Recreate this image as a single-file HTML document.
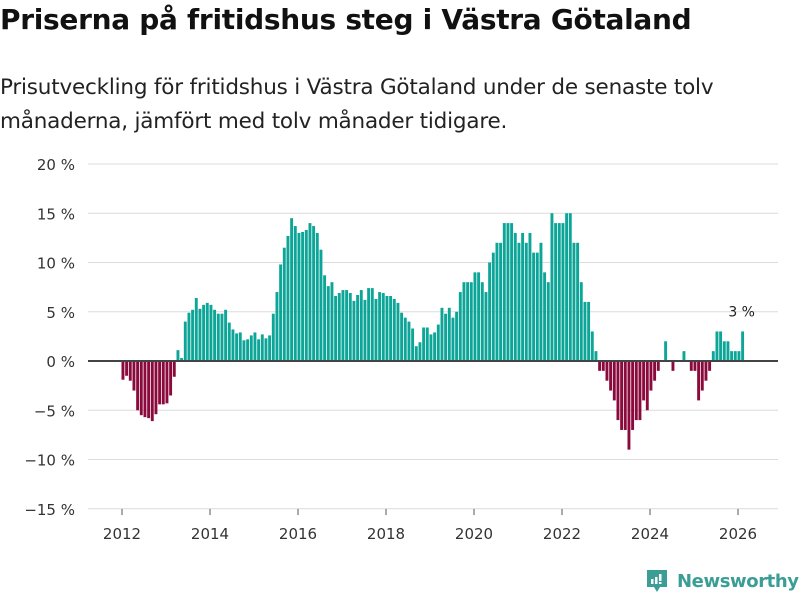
<!DOCTYPE html>
<html><head><meta charset="utf-8"><style>
body{margin:0;width:800px;height:600px;background:#fff;font-family:"DejaVu Sans",sans-serif;overflow:hidden;position:relative}
#title{position:absolute;left:0;top:3px;font-size:28px;font-weight:bold;color:#111;margin:0;letter-spacing:-0.3px;white-space:nowrap}
#sub{position:absolute;left:0;top:71px;font-size:21.5px;line-height:34px;color:#222;margin:0;width:760px;letter-spacing:-0.2px}
svg{position:absolute;left:0;top:0}
#logo{position:absolute;left:645px;top:568px;display:flex;align-items:center;color:#3a9e96;font-size:18px;font-weight:bold;letter-spacing:-0.4px}
</style></head><body>
<h1 id="title">Priserna på fritidshus steg i Västra Götaland</h1>
<p id="sub">Prisutveckling för fritidshus i Västra Götaland under de senaste tolv<br>månaderna, jämfört med tolv månader tidigare.</p>
<svg id="chart" width="800" height="600"></svg>
<div id="logo"><svg width="24" height="26" style="position:static;margin-right:8px"><path d="M2 2h20v17h-7l-3 5-3-5H2z" fill="#3a9e96"/><rect x="6" y="11" width="2.5" height="5" fill="#fff"/><rect x="10" y="9" width="2.5" height="7" fill="#fff"/><rect x="14" y="6" width="2.5" height="7" fill="#fff"/><rect x="14" y="14" width="2.5" height="2" fill="#fff"/></svg><span>Newsworthy</span></div>
<script>
const startYear = 2012;
const values = [-1.9,-1.5,-2.0,-3.0,-5.0,-5.5,-5.7,-5.8,-6.1,-5.4,-4.4,-4.4,-4.3,-3.5,-1.6,
1.1,0.3,4.0,4.9,5.2,6.4,5.3,5.7,5.9,5.7,5.2,4.8,4.8,5.2,3.9,3.2,2.8,
2.9,2.1,2.2,2.6,2.9,2.2,2.7,2.3,2.6,4.8,7.0,9.8,11.5,12.7,14.5,13.7,13.0,13.1,13.3,14.0,13.7,13.0,11.3,8.7,7.6,8.0,6.6,6.9,7.2,7.2,6.9,6.1,6.7,7.2,6.2,7.4,7.4,6.3,7.0,6.9,6.6,6.6,6.3,5.9,4.9,4.4,4.0,
3.3,1.5,1.9,3.4,3.4,2.7,2.9,3.7,5.4,4.8,5.4,4.4,5.0,7,8,8,8,9,9,8,7,10,11,12,12,14,14,14,13,12,13,12,13,11,11,12,9,8,15,14,14,14,15,15,12,12,8,6,6,3,1,
-1,-1,-2,-3,-4,-6,-7,-7,-9,-7,-6,-6,-4,-5,-3,-2,-1,0,2,0,-1,0,0,1,0,-1,-1,-4,-3,-2,-1,1,3,3,2,2,1,1,1,3];
const yTicks = [-15,-10,-5,0,5,10,15,20];
const xTicks = [2012,2014,2016,2018,2020,2022,2024,2026];
const lastLabel = "3 %";
const NS="http://www.w3.org/2000/svg";
const svg=document.getElementById('chart');
const y=v=>361-v*9.85;
const x=t=>122+(t-2012)*44;
const FF='DejaVu Sans, sans-serif';
function mk(tag,attrs){const e=document.createElementNS(NS,tag);for(const k in attrs)e.setAttribute(k,attrs[k]);svg.appendChild(e);return e;}
yTicks.forEach(t=>{
  const l=mk('line',{x1:88,x2:778,y1:y(t),y2:y(t),stroke:'#dcdcdc','stroke-width':1});
  
  
  const tx=mk('text',{x:75,y:y(t)+6,'text-anchor':'end','font-size':15,fill:'#333','font-family':FF});
  tx.textContent=(t<0?'\u2212'+(-t):t)+' %';
  
  
});
xTicks.forEach(t=>{
  const l=mk('line',{x1:x(t),x2:x(t),y1:509,y2:515,stroke:'#555','stroke-width':1});
  
  
  const tx=mk('text',{x:x(t),y:539,'text-anchor':'middle','font-size':15,fill:'#333','font-family':FF});
  tx.textContent=t;
  
  
});
values.forEach((v,i)=>{
  const cx=x(startYear+i/12)+1;
  const r=mk('rect',{x:cx-1.5,width:2.9,y:Math.min(y(v),y(0)),height:Math.abs(y(v)-y(0)),fill:v>=0?'#0ca597':'#8b0a3d'});
  
  
});
const z=mk('line',{x1:88,x2:778,y1:y(0),y2:y(0),stroke:'#444','stroke-width':2});


const li=values.length-1;
const lt=mk('text',{x:x(startYear+li/12),y:y(values[li])-15,'text-anchor':'middle','font-size':14,fill:'#222','font-family':FF});
lt.textContent=lastLabel;


</script>
</body></html>
